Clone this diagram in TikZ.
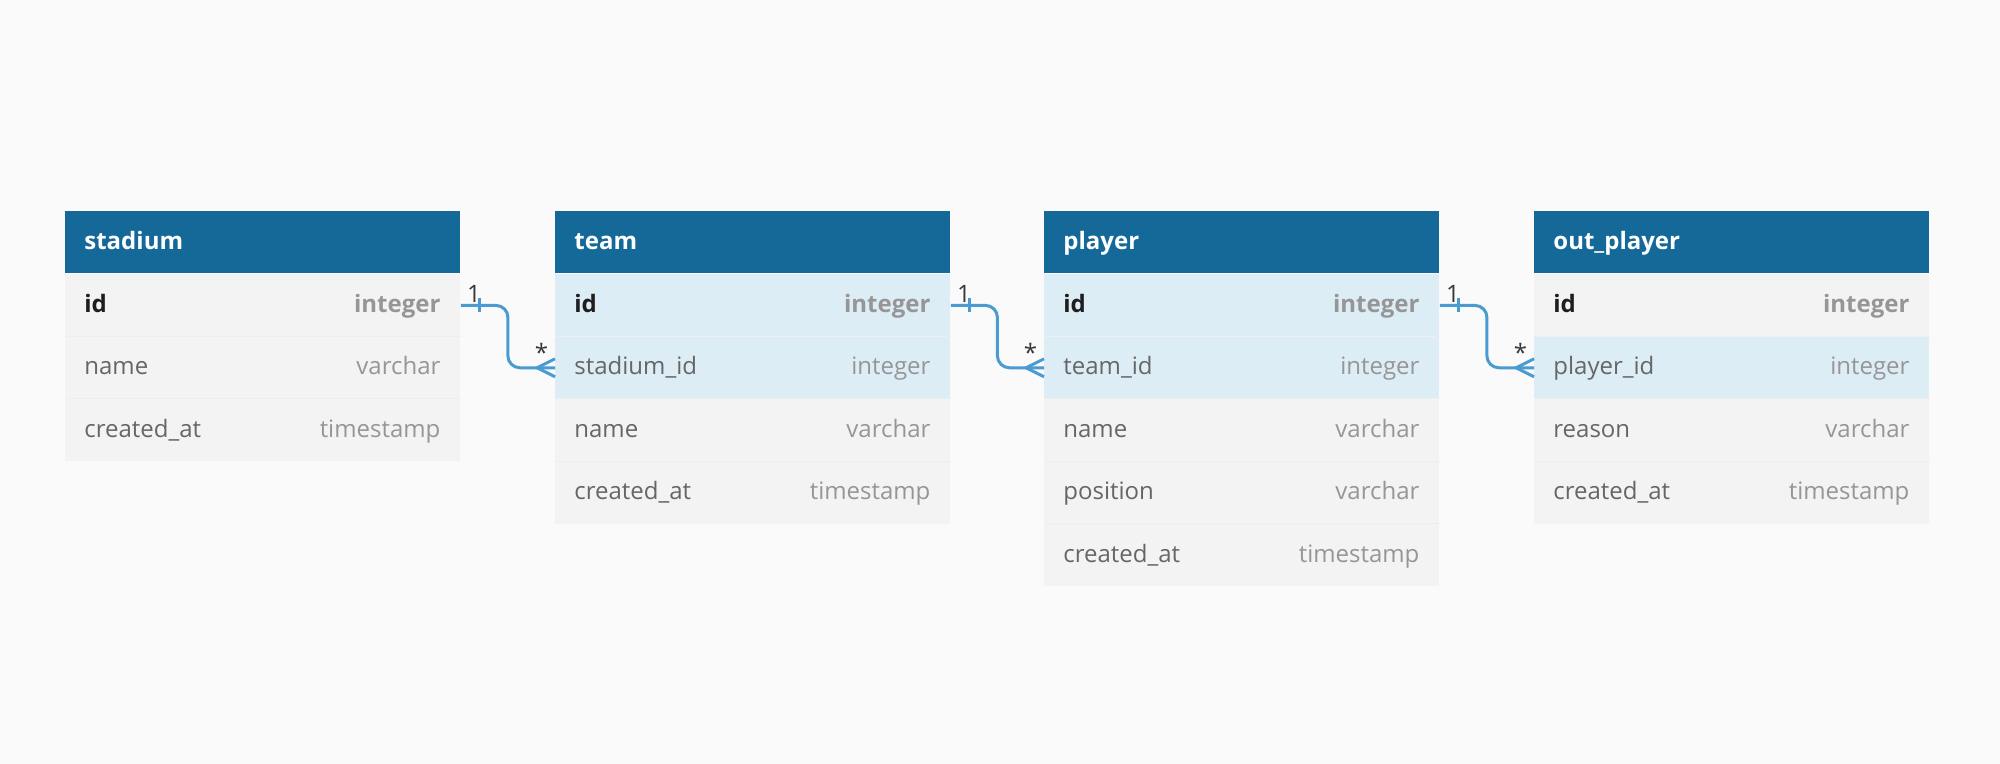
\documentclass[tikz,border=0pt]{standalone}
\usepackage{fontspec}
\setmainfont{Open Sans}
\usetikzlibrary{arrows.meta,calc,positioning}
\definecolor{PageGray}{RGB}{250,250,250}
\definecolor{HeadBlue}{RGB}{20,105,152}
\definecolor{RowGray}{RGB}{243,243,243}
\definecolor{RowBlue}{RGB}{220,237,245}
\definecolor{RowLine}{RGB}{238,238,238}
\definecolor{LinkBlue}{RGB}{74,155,210}
\definecolor{FieldGray}{RGB}{102,102,102}
\definecolor{TypeGray}{RGB}{150,150,150}
\definecolor{KeyBlack}{RGB}{30,30,30}
\definecolor{LabelGray}{RGB}{55,55,55}
\newcommand\erdfont{\fontsize{12}{14}\selectfont}

\tikzset{
  tablehead/.style={anchor=north west,fill=HeadBlue,minimum width=197.5pt,
    minimum height=31pt,inner sep=0pt},
  headtext/.style={anchor=base west,inner sep=0pt,text=white,font=\erdfont\bfseries},
  fieldrow/.style={anchor=north west,minimum width=197.5pt,minimum height=31.2pt,
    inner sep=0pt},
  fieldname/.style={anchor=base west,inner sep=0pt,text=FieldGray,font=\erdfont},
  fieldtype/.style={anchor=base east,inner sep=0pt,text=TypeGray,font=\erdfont},
  rowline/.style={draw=RowLine,line width=0.5pt},
  link/.style={draw=LinkBlue,line width=1.5pt},
  cardlabel/.style={inner sep=0pt,text=LabelGray,font=\erdfont}
}

\begin{document}
\begin{tikzpicture}[x=0.5pt,y=-0.5pt]
  \fill[PageGray] (0,0) rectangle (2000,764);

  % tables
  \foreach \tab/\title/\x/\rows in {
      stadium/stadium/65/{id/integer/RowGray,name/varchar/RowGray,
        created\_at/timestamp/RowGray},
      team/team/555/{id/integer/RowBlue,stadium\_id/integer/RowBlue,
        name/varchar/RowGray,created\_at/timestamp/RowGray},
      player/player/1044/{id/integer/RowBlue,team\_id/integer/RowBlue,
        name/varchar/RowGray,position/varchar/RowGray,
        created\_at/timestamp/RowGray},
      outplayer/out\_player/1534/{id/integer/RowGray,player\_id/integer/RowBlue,
        reason/varchar/RowGray,created\_at/timestamp/RowGray}}{
    \node[tablehead] (\tab) at (\x,211) {};
    \node[headtext] (\tab-title) at ([xshift=9.5pt,yshift=-3.5pt]\tab.west) {\title};
    \foreach \f/\t/\c [count=\i] in \rows {
      \node[fieldrow,fill=\c] (\tab-\i) at ([yshift={-(\i-1)*31.2pt}]\tab.south west) {};
      \ifnum\i>1 \draw[rowline] (\tab-\i.north west) -- (\tab-\i.north east); \fi
      \node[fieldname] (\tab-\i-name) at ([xshift=9.5pt,yshift=-3.5pt]\tab-\i.west)
        {\ifnum\i=1 \bfseries\color{KeyBlack}\fi\f};
      \node[fieldtype] (\tab-\i-type) at ([xshift=-10pt,yshift=-3.5pt]\tab-\i.east)
        {\ifnum\i=1 \bfseries\fi\t};
    }
  }

  % one-to-many links
  \foreach \a/\b in {stadium-1/team-2,team-1/player-2,player-1/outplayer-2}{
    \draw[link,rounded corners=6pt] (\a.east) -| ($(\a.east)!.5!(\b.west)$) |- (\b.west);
    \draw[link] ([xshift=9.5pt,yshift=3.5pt]\a.east) -- ([xshift=9.5pt,yshift=-3.5pt]\a.east);
    \draw[link] ([yshift=4.5pt]\b.west) -- ([xshift=-9pt]\b.west)
      -- ([yshift=-4.5pt]\b.west);
    \node[cardlabel,anchor=base west] (\a-one) at ([xshift=3pt,yshift=1.5pt]\a.east) {1};
    \node[cardlabel,anchor=base east] (\b-many) at ([xshift=-3.25pt,yshift=3pt]\b.west) {*};
  }
\end{tikzpicture}
\end{document}
